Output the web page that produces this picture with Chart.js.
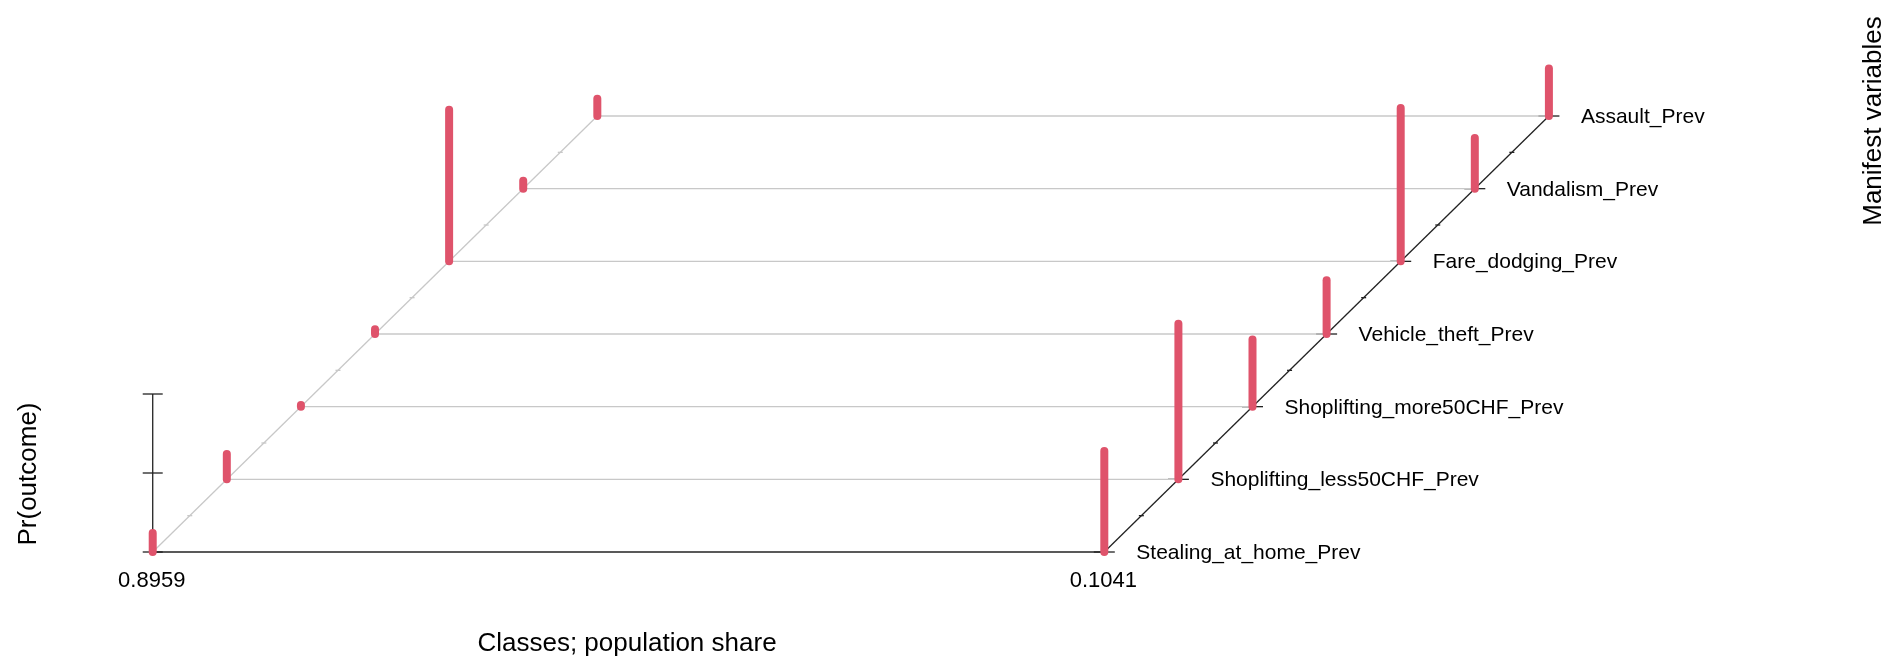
<!DOCTYPE html>
<html>
<head>
<meta charset="utf-8">
<title>Latent class profile</title>
<script src="https://cdn.jsdelivr.net/npm/chart.js@4.4.1/dist/chart.umd.min.js"></script>
<style>
  html, body { margin: 0; padding: 0; background: #ffffff; }
  #wrap { width: 1885px; height: 656px; position: relative; }
</style>
</head>
<body>
<div id="wrap"><canvas id="c" width="1885" height="656"></canvas></div>
<script>
// Manifest variables, front row first
const variables = [
  'Stealing_at_home_Prev',
  'Shoplifting_less50CHF_Prev',
  'Shoplifting_more50CHF_Prev',
  'Vehicle_theft_Prev',
  'Fare_dodging_Prev',
  'Vandalism_Prev',
  'Assault_Prev'
];
// Latent classes and their population shares
const classShares = ['0.8959', '0.1041'];
// Pr(outcome) per variable for each class
const class1Prob = [0.12, 0.16, 0.01, 0.03, 0.96, 0.05, 0.11];
const class2Prob = [0.64, 0.985, 0.425, 0.34, 0.97, 0.32, 0.30];
// Ticks on the probability axis
const zTicks = [0, 0.5, 1];

// Oblique projection: each row of variables is shifted back and up
const DEPTH_X = 0.07787;
const DEPTH_Y = 0.4599;
const proj = (cls, row, p) => ({ x: cls + row * DEPTH_X, y: p + row * DEPTH_Y });

const RED = '#DF536B';
const GREY = '#C8C8C8';
const INK = '#222222';
const FONT = '"Liberation Sans", Arial, Helvetica, sans-serif';

const datasets = [];
const lastRow = variables.length - 1;

// Grey depth lines joining the two classes for each variable
variables.forEach((v, r) => {
  if (r === 0) return;
  datasets.push({ data: [proj(0, r, 0), proj(1, r, 0)], borderColor: GREY, borderWidth: 1.3, order: 3 });
});
// Grey diagonal behind the first class
datasets.push({ data: [proj(0, 0, 0), proj(0, lastRow, 0)], borderColor: GREY, borderWidth: 1.3, order: 3 });
// Black class axis along the front and variable axis along the right
datasets.push({ data: [proj(0, 0, 0), proj(1, 0, 0)], borderColor: INK, borderWidth: 1.3, order: 2 });
datasets.push({ data: [proj(1, 0, 0), proj(1, lastRow, 0)], borderColor: INK, borderWidth: 1.3, order: 2 });
// Probability axis
datasets.push({ data: [proj(0, 0, zTicks[0]), proj(0, 0, zTicks[zTicks.length - 1])], borderColor: INK, borderWidth: 1.3, order: 2 });

// Probability bars for each class and variable
[class1Prob, class2Prob].forEach((probs, cls) => {
  probs.forEach((p, r) => {
    datasets.push({
      data: [proj(cls, r, 0), proj(cls, r, p)],
      borderColor: RED,
      borderWidth: 8,
      borderCapStyle: 'round',
      order: 0
    });
  });
});

datasets.forEach(d => {
  d.showLine = true;
  d.pointRadius = 0;
  d.pointHoverRadius = 0;
  d.fill = false;
  d.clip = false;
  d.tension = 0;
});

// Tick marks drawn beneath the bars
const tickMarks = {
  id: 'tickMarks',
  beforeDatasetsDraw(chart) {
    const { ctx, scales: { x, y } } = chart;
    const px = pt => [x.getPixelForValue(pt.x), y.getPixelForValue(pt.y)];
    ctx.save();
    ctx.lineWidth = 1.3;
    ctx.strokeStyle = INK;
    const hTick = (pt, half) => {
      const [cx, cy] = px(pt);
      ctx.beginPath(); ctx.moveTo(cx - half, cy); ctx.lineTo(cx + half, cy); ctx.stroke();
    };
    zTicks.forEach(t => hTick(proj(0, 0, t), 10));
    variables.forEach((v, r) => hTick(proj(1, r, 0), 10.5));
    // small ticks halfway between rows
    for (let r = 0; r < lastRow; r++) {
      hTick(proj(1, r + 0.5, 0), 2.5);
      ctx.strokeStyle = GREY;
      hTick(proj(0, r + 0.5, 0), 2.5);
      ctx.strokeStyle = INK;
    }
    ctx.restore();
  }
};

// Variable names, class shares and axis titles
const labels = {
  id: 'labels',
  afterDraw(chart) {
    const { ctx, scales: { x, y } } = chart;
    ctx.save();
    ctx.fillStyle = '#000000';
    ctx.textBaseline = 'alphabetic';

    ctx.font = '21px ' + FONT;
    ctx.textAlign = 'left';
    variables.forEach((v, r) => {
      const pt = proj(1, r, 0);
      ctx.fillText(v, x.getPixelForValue(pt.x) + 32, y.getPixelForValue(pt.y) + 7);
    });

    ctx.font = '22px ' + FONT;
    ctx.textAlign = 'center';
    classShares.forEach((s, cls) => {
      ctx.fillText(s, x.getPixelForValue(cls) - 1, y.getPixelForValue(0) + 35);
    });

    ctx.font = '26px ' + FONT;
    ctx.fillText('Classes; population share', 627, 651);

    ctx.save();
    ctx.translate(36, 474);
    ctx.rotate(-Math.PI / 2);
    ctx.fillText('Pr(outcome)', 0, 0);
    ctx.restore();

    ctx.save();
    ctx.translate(1881, 121);
    ctx.rotate(-Math.PI / 2);
    ctx.fillText('Manifest variables', 0, 0);
    ctx.restore();

    ctx.restore();
  }
};

new Chart(document.getElementById('c'), {
  type: 'scatter',
  data: { datasets },
  options: {
    responsive: false,
    animation: false,
    events: [],
    layout: { padding: { left: 100, right: 185, top: 40, bottom: 76 } },
    plugins: { legend: { display: false }, tooltip: { enabled: false } },
    scales: {
      x: { type: 'linear', display: false, min: -0.0554, max: 1.6260 },
      y: { type: 'linear', display: false, min: -0.1772, max: 3.2405 }
    }
  },
  plugins: [tickMarks, labels]
});
</script>
</body>
</html>
